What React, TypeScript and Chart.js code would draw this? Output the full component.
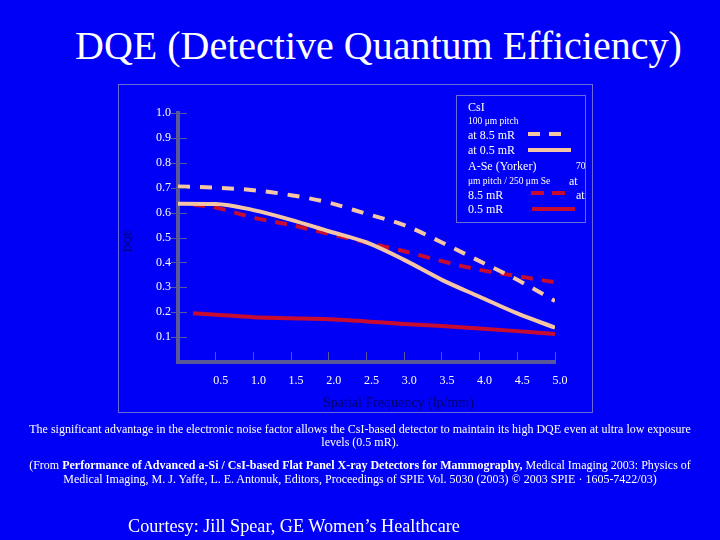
import React, { useEffect, useRef } from "react";
import { Chart, registerables } from "chart.js";

Chart.register(...registerables);

// ---- data ----
const csiFreq = [0, 0.5, 1.0, 1.5, 2.0, 2.5, 3.0, 3.5, 4.0, 4.5, 5.0];
const csi85mR = [0.705, 0.7, 0.69, 0.67, 0.64, 0.595, 0.55, 0.48, 0.405, 0.33, 0.245];
const csi05mR = [0.636, 0.635, 0.61, 0.571, 0.525, 0.48, 0.41, 0.33, 0.262, 0.195, 0.138];
const aSeFreq = [0.2, 0.5, 1.0, 1.5, 2.0, 2.5, 3.0, 3.5, 4.0, 4.5, 5.0];
const aSe85mR = [0.632, 0.62, 0.58, 0.55, 0.515, 0.48, 0.445, 0.405, 0.37, 0.345, 0.32];
const aSe05mR = [0.196, 0.19, 0.18, 0.176, 0.172, 0.163, 0.153, 0.145, 0.135, 0.124, 0.112];

const seriesLabels = ["CsI at 8.5 mR", "CsI at 0.5 mR", "A-Se at 8.5 mR", "A-Se at 0.5 mR"];

// ---- styles ----
const BG = "#0000f6";
const PEACH = "#f6c5a4";
const RED = "#c80c30";
const AXIS = "#58589a";
const FRAME = "#6a6ad8";
const NAVY = "#00006e";
const SERIF = "'Liberation Serif', 'Times New Roman', serif";

const pts = (xs: number[], ys: number[]) => xs.map((x, i) => ({ x, y: ys[i] }));

const yTickPlugin = {
  id: "yTickMarks",
  afterDraw(chart: any) {
    const y = chart.scales.y;
    const ctx = chart.ctx;
    ctx.save();
    ctx.strokeStyle = AXIS;
    ctx.lineWidth = 1;
    y.ticks.forEach((t: any) => {
      if (Math.abs(t.value) < 1e-9) return;
      const py = Math.round(y.getPixelForValue(t.value)) + 0.5;
      ctx.beginPath();
      ctx.moveTo(y.right - 7, py);
      ctx.lineTo(y.right + 9, py);
      ctx.stroke();
    });
    ctx.restore();
  },
};

function T(props: { x: number; y: number; size: number; children: any; color?: string; bold?: boolean; style?: any }) {
  const lh = Math.round(props.size * 1.2);
  return (
    <div
      style={{
        position: "absolute",
        left: props.x,
        top: props.y - lh / 2,
        lineHeight: lh + "px",
        fontSize: props.size,
        fontFamily: SERIF,
        color: props.color || "#fff",
        fontWeight: props.bold ? "bold" : "normal",
        whiteSpace: "nowrap",
        ...(props.style || {}),
      }}
    >
      {props.children}
    </div>
  );
}

function CenterLine(props: { y: number; size: number; children: any; style?: any }) {
  const lh = Math.round(props.size * 1.2);
  return (
    <div
      style={{
        position: "absolute",
        left: 0,
        width: 720,
        top: props.y - lh / 2,
        lineHeight: lh + "px",
        fontSize: props.size,
        fontFamily: SERIF,
        color: "#fff",
        textAlign: "center",
        whiteSpace: "nowrap",
        ...(props.style || {}),
      }}
    >
      {props.children}
    </div>
  );
}

export default function App() {
  const ref = useRef<HTMLCanvasElement | null>(null);

  useEffect(() => {
    if (!ref.current) return;
    const chart = new Chart(ref.current, {
      type: "line",
      data: {
        datasets: [
          {
            label: seriesLabels[0],
            data: pts(csiFreq, csi85mR),
            borderColor: PEACH,
            borderWidth: 4,
            borderDash: [12, 10],
            pointRadius: 0,
            cubicInterpolationMode: "monotone",
          },
          {
            label: seriesLabels[1],
            data: pts(csiFreq, csi05mR),
            borderColor: PEACH,
            borderWidth: 4,
            pointRadius: 0,
            cubicInterpolationMode: "monotone",
          },
          {
            label: seriesLabels[2],
            data: pts(aSeFreq, aSe85mR),
            borderColor: RED,
            borderWidth: 4,
            borderDash: [12, 9],
            pointRadius: 0,
            cubicInterpolationMode: "monotone",
          },
          {
            label: seriesLabels[3],
            data: pts(aSeFreq, aSe05mR),
            borderColor: RED,
            borderWidth: 4,
            pointRadius: 0,
            cubicInterpolationMode: "monotone",
          },
        ],
      },
      options: {
        animation: false,
        responsive: false,
        devicePixelRatio: 1,
        layout: { padding: { left: 148, right: 165, top: 113, bottom: 148 } },
        plugins: { legend: { display: false }, tooltip: { enabled: false }, title: { display: false } },
        scales: {
          x: {
            type: "linear",
            min: 0,
            max: 5,
            afterFit: (s: any) => {
              s.height = 30;
            },
            ticks: {
              stepSize: 0.5,
              color: "#fff",
              padding: 22,
              labelOffset: 5,
              font: { family: SERIF, size: 12 },
              callback: (v: any) => (Math.abs(v) < 1e-9 ? "" : Number(v).toFixed(1)),
            },
            grid: {
              drawOnChartArea: false,
              drawTicks: true,
              tickLength: -10,
              color: (c: any) => (c.tick && Math.abs(c.tick.value) < 1e-9 ? "rgba(0,0,0,0)" : AXIS),
              lineWidth: 1,
            },
            border: { display: true, color: AXIS, width: 4 },
          },
          y: {
            min: 0,
            max: 1,
            afterFit: (s: any) => {
              s.width = 30;
            },
            ticks: {
              stepSize: 0.1,
              color: "#fff",
              padding: 7,
              font: { family: SERIF, size: 12 },
              callback: (v: any) => (Math.abs(v) < 1e-9 ? "" : Number(v).toFixed(1)),
            },
            grid: { drawOnChartArea: false, drawTicks: false },
            border: { display: true, color: AXIS, width: 4 },
          },
        },
      },
      plugins: [yTickPlugin],
    } as any);
    return () => chart.destroy();
  }, []);

  return (
    <div style={{ position: "fixed", left: 0, top: 0, width: 720, height: 540, background: BG, overflow: "hidden" }}>
      {/* title */}
      <T x={75} y={46} size={40}>DQE (Detective Quantum Efficiency)</T>

      {/* outer frame */}
      <div style={{ position: "absolute", left: 118, top: 84, width: 473, height: 327, border: "1px solid " + FRAME }} />

      <canvas ref={ref} width={720} height={540} style={{ position: "absolute", left: 0, top: 0, width: 720, height: 540 }} />

      {/* axis titles */}
      <div
        style={{
          position: "absolute",
          left: 127 - 20,
          top: 241 - 7,
          width: 40,
          height: 14,
          lineHeight: "14px",
          textAlign: "center",
          fontFamily: SERIF,
          fontSize: 11,
          color: NAVY,
          transform: "rotate(-90deg)",
        }}
      >
        DQE
      </div>
      <T x={323} y={402} size={14} color={NAVY}>Spatial Frequency (lp/mm)</T>

      {/* legend */}
      <div style={{ position: "absolute", left: 456, top: 95, width: 128, height: 126, border: "1px solid " + FRAME, overflow: "hidden" }}>
        <div style={{ position: "relative", left: -457, top: -96 }}>
          <T x={468} y={107} size={12}>CsI</T>
          <T x={468} y={121} size={9.5}>100 μm pitch</T>
          <T x={468} y={135} size={12}>at 8.5 mR</T>
          <T x={468} y={150} size={12}>at 0.5 mR</T>
          <T x={468} y={166} size={12}>A-Se (Yorker)</T>
          <T x={576} y={166} size={9.5}>70</T>
          <T x={468} y={181} size={9.5}>μm pitch / 250 μm Se</T>
          <T x={569} y={181} size={12}>at</T>
          <T x={468} y={195} size={12}>8.5 mR</T>
          <T x={576} y={195} size={12}>at</T>
          <T x={468} y={209} size={12}>0.5 mR</T>
          <svg style={{ position: "absolute", left: 0, top: 0, overflow: "visible" }} width={720} height={540}>
            <line x1={528} y1={134} x2={562} y2={134} stroke={PEACH} strokeWidth={4} strokeDasharray="12 9" />
            <line x1={528} y1={150} x2={571} y2={150} stroke={PEACH} strokeWidth={4} />
            <line x1={531} y1={193} x2={565} y2={193} stroke={RED} strokeWidth={4} strokeDasharray="13 8" />
            <line x1={532} y1={209} x2={575} y2={209} stroke={RED} strokeWidth={4} />
          </svg>
        </div>
      </div>

      {/* captions */}
      <CenterLine y={429} size={12}>
        The significant advantage in the electronic noise factor allows the CsI-based detector to maintain its high DQE even at ultra low exposure
      </CenterLine>
      <CenterLine y={442} size={12}>levels (0.5 mR).</CenterLine>
      <CenterLine y={465} size={12}>
        (From <b>Performance of Advanced a-Si / CsI-based Flat Panel X-ray Detectors for Mammography,</b> Medical Imaging 2003: Physics of
      </CenterLine>
      <CenterLine y={479} size={12}>
        Medical Imaging, M. J. Yaffe, L. E. Antonuk, Editors, Proceedings of SPIE Vol. 5030 (2003) © 2003 SPIE · 1605-7422/03)
      </CenterLine>
      <T x={128} y={526} size={18.2}>Courtesy: Jill Spear, GE Women’s Healthcare</T>
    </div>
  );
}
